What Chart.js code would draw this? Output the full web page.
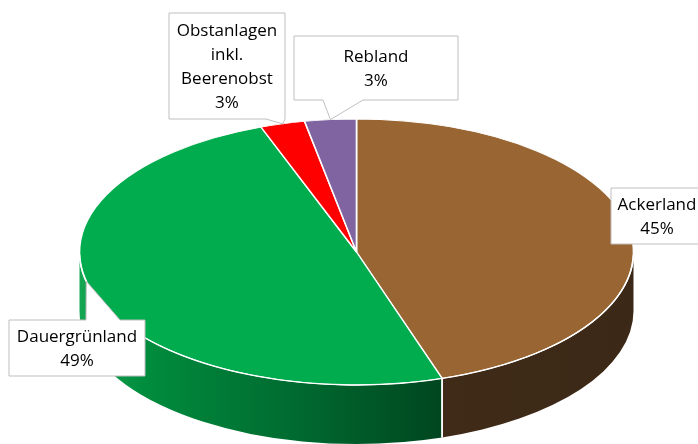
<!DOCTYPE html>
<html><head><meta charset="utf-8">
<script src="https://cdn.jsdelivr.net/npm/chart.js@4/dist/chart.umd.min.js"></script>
<style>html,body{margin:0;padding:0;background:#fff}#wrap{width:698px;height:444px;position:relative}</style>
</head><body><div id="wrap"><canvas id="c" width="698" height="444"></canvas></div>
<script>
// ---- data ----
const categories = ['Ackerland', 'Dauergrünland', 'Obstanlagen inkl. Beerenobst', 'Rebland'];
const labelLines = [['Ackerland'], ['Dauergrünland'], ['Obstanlagen', 'inkl.', 'Beerenobst'], ['Rebland']];
const values = [45.0, 49.4, 2.6, 3.0];

// ---- styles / layout ----
const topColors = ['#996633', '#00AC4E', '#FF0000', '#8064A2'];
const sideStops = [
  [[0, '#402B19'], [1, '#3C2816']],
  [[0, '#14A652'], [0.18, '#008C3D'], [0.6, '#006A30'], [1, '#00461F']],
  [[0, '#A00000'], [1, '#700000']],
  [[0, '#5A4672'], [1, '#4A3A60']]
];
const CX = 356.5, CY = 252, RX = 277, RY = 133, DEPTH = 59;
const FONT = '17px "Open Sans"';
const LINE_H = 24;
// callout boxes: [x, y, w, h], pointer side, pointer base x-range, anchor position along slice
const callouts = [
  { box: [611, 188, 92, 56] },
  { box: [9, 320, 136, 56], side: 'top', base: [86, 120], at: 0.536 },
  { box: [169, 13, 116, 106], side: 'bottom', base: [266, 285], at: 0.5 },
  { box: [294, 36, 164, 64], side: 'bottom', base: [323, 363], at: 0.5 }
];

function ellPt(a, dy) { return [CX + RX * Math.cos(a), CY + (dy || 0) + RY * Math.sin(a)]; }

const pie3d = {
  id: 'pie3d',
  beforeDatasetsDraw(chart) {
    const ctx = chart.ctx;
    const arcs = chart.getDatasetMeta(0).data;
    // side walls (front half: angles 0..PI)
    arcs.forEach((arc, i) => {
      const a1 = Math.max(arc.startAngle, 0), a2 = Math.min(arc.endAngle, Math.PI);
      if (a2 <= a1) return;
      const xl = CX + RX * Math.cos(a2), xr = CX + RX * Math.cos(a1);
      const g = ctx.createLinearGradient(xl, 0, xr, 0);
      sideStops[i].forEach(s => g.addColorStop(s[0], s[1]));
      ctx.save();
      ctx.beginPath();
      ctx.ellipse(CX, CY, RX, RY, 0, a1, a2, false);
      ctx.ellipse(CX, CY + DEPTH, RX, RY, 0, a2, a1, true);
      ctx.closePath();
      ctx.fillStyle = g;
      ctx.fill();
      ctx.restore();
    });
    // separators on the side
    ctx.save();
    ctx.strokeStyle = '#ffffff';
    ctx.lineWidth = 1.5;
    arcs.forEach(arc => {
      [arc.startAngle, arc.endAngle].forEach(a => {
        const an = ((a % (2 * Math.PI)) + 2 * Math.PI) % (2 * Math.PI);
        if (an > 0.01 && an < Math.PI - 0.01) {
          const p = ellPt(an), q = ellPt(an, DEPTH);
          ctx.beginPath(); ctx.moveTo(p[0], p[1]); ctx.lineTo(q[0], q[1]); ctx.stroke();
        }
      });
    });
    ctx.restore();
    // squash the library's circle into the top ellipse
    const a0 = arcs[0];
    const R = a0.outerRadius;
    ctx.save();
    ctx.translate(CX, CY);
    ctx.scale(RX / R, RY / R);
    ctx.translate(-a0.x, -a0.y);
  },
  afterDatasetsDraw(chart) {
    const ctx = chart.ctx;
    ctx.restore();
    const arcs = chart.getDatasetMeta(0).data;
    // white front rim
    ctx.save();
    ctx.strokeStyle = '#ffffff';
    ctx.lineWidth = 1.4;
    ctx.beginPath();
    ctx.ellipse(CX, CY, RX, RY, 0, 0.02, Math.PI - 0.02, false);
    ctx.stroke();
    ctx.restore();
    // callouts
    const total = values.reduce((s, v) => s + v, 0);
    ctx.save();
    ctx.font = FONT;
    callouts.forEach((c, i) => {
      const [x, y, w, h] = c.box;
      ctx.beginPath();
      if (c.side) {
        const arc = arcs[i];
        const a = arc.startAngle + c.at * (arc.endAngle - arc.startAngle);
        const t = ellPt(a);
        if (c.side === 'bottom') {
          ctx.moveTo(x, y); ctx.lineTo(x + w, y); ctx.lineTo(x + w, y + h);
          ctx.lineTo(c.base[1], y + h); ctx.lineTo(t[0], t[1]); ctx.lineTo(c.base[0], y + h);
          ctx.lineTo(x, y + h); ctx.closePath();
        } else {
          ctx.moveTo(x, y); ctx.lineTo(c.base[0], y); ctx.lineTo(t[0], t[1]); ctx.lineTo(c.base[1], y);
          ctx.lineTo(x + w, y); ctx.lineTo(x + w, y + h); ctx.lineTo(x, y + h); ctx.closePath();
        }
      } else {
        ctx.rect(x, y, w, h);
      }
      ctx.fillStyle = '#ffffff';
      ctx.fill();
      ctx.strokeStyle = '#BFBFBF';
      ctx.lineWidth = 1;
      ctx.stroke();
      const lines = labelLines[i].concat([Math.round(values[i] / total * 100) + '%']);
      ctx.fillStyle = '#000000';
      ctx.textAlign = 'center';
      ctx.textBaseline = 'middle';
      const cy = y + h / 2 + 1;
      lines.forEach((ln, k) => {
        ctx.fillText(ln, x + w / 2, cy + (k - (lines.length - 1) / 2) * LINE_H);
      });
    });
    ctx.restore();
  }
};

new Chart(document.getElementById('c'), {
  type: 'pie',
  data: {
    labels: categories,
    datasets: [{
      data: values,
      backgroundColor: topColors,
      borderColor: '#ffffff',
      borderWidth: 1.3,
      clip: false
    }]
  },
  options: {
    responsive: false,
    animation: false,
    events: [],
    layout: { padding: 0 },
    plugins: { legend: { display: false }, tooltip: { enabled: false }, title: { display: false } }
  },
  plugins: [pie3d]
});
</script>
</body></html>
